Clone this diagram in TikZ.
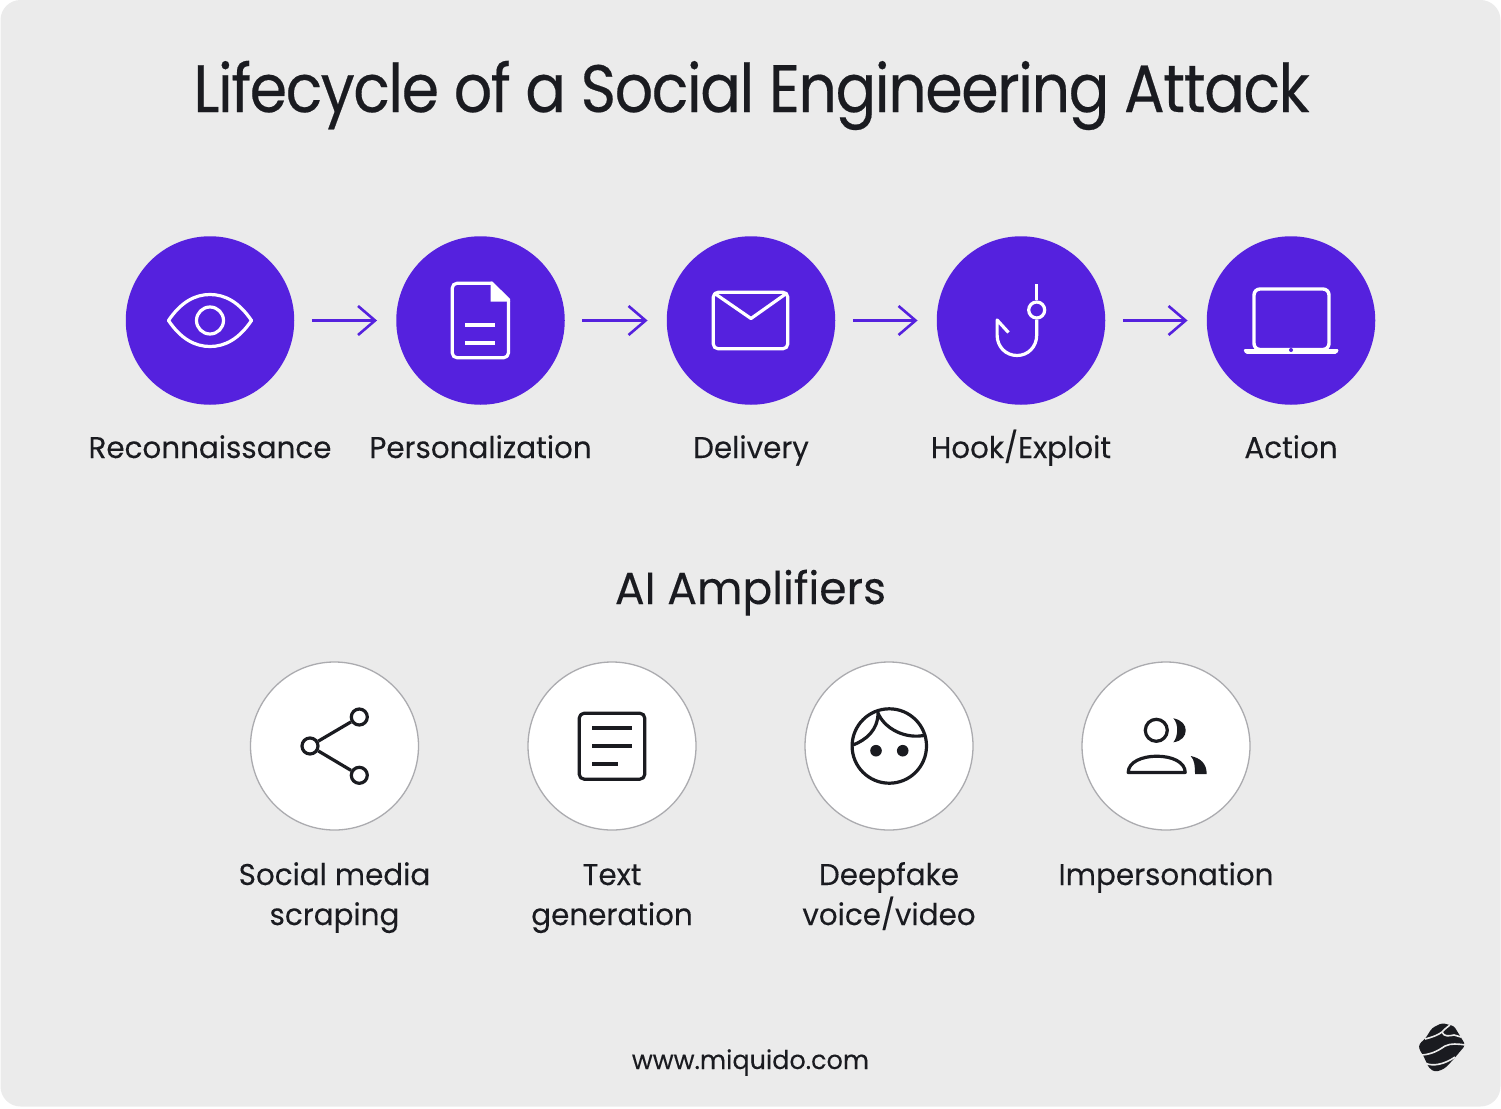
\documentclass[tikz,border=0pt]{standalone}
\usepackage{fontspec}
\usetikzlibrary{arrows.meta}
\setmainfont[FakeStretch=0.98, FakeBold=0.15]{Poppins}
\newfontfamily\titlefont[FakeStretch=0.9, LetterSpace=-2.2, FakeBold=0.3]{Poppins}
\definecolor{panel}{HTML}{EBEBEB}
\definecolor{violet}{HTML}{5521DE}
\definecolor{ink}{HTML}{1A1B20}
\definecolor{ring}{HTML}{ABABAF}
\tikzset{
    stepcircle/.style={circle, fill=violet, minimum size=168.5pt, inner sep=0pt},
    ampcircle/.style={circle, draw=ring, line width=1.3pt, fill=white, minimum size=168pt, inner sep=0pt},
    steplabel/.style={anchor=base, text=ink, align=center, font=\fontsize{30}{40}\selectfont},
    flow/.style={-{Straight Barb[length=17pt, width=29pt]}, draw=violet, line width=2.6pt, shorten <=17.5pt, shorten >=19pt},
    whiteicon/.style={draw=white, line width=3.2pt, line join=round},
    darkicon/.style={draw=ink, line width=3.2pt, line join=round},
    dot/.style={circle, draw=ink, line width=3.2pt, fill=white, minimum size=16pt, inner sep=0pt},
    logocut/.style={draw=panel, line width=1.6pt},
}
\begin{document}
\begin{tikzpicture}[x=1pt, y=-1pt]
    \useasboundingbox (0,0) rectangle (1501,1108);
    \fill[panel, rounded corners=20pt] (0.5,0) rectangle (1500.5,1106.5);

    \node[anchor=base, text=ink, font=\titlefont\fontsize{67}{67}\selectfont] (title) at (751.5,112) {Lifecycle of a Social Engineering Attack};

    % upper row
    \node[stepcircle] (recon) at (210,320.5) {};
    \node[stepcircle] (person) at (480.5,320.5) {};
    \node[stepcircle] (deliv) at (751,320.5) {};
    \node[stepcircle] (hook) at (1021,320.5) {};
    \node[stepcircle] (action) at (1291,320.5) {};

    \draw[flow] (recon) -- (person);
    \draw[flow] (person) -- (deliv);
    \draw[flow] (deliv) -- (hook);
    \draw[flow] (hook) -- (action);

    \node[steplabel] (reconlabel) at (210,458) {Reconnaissance};
    \node[steplabel] (personlabel) at (480.5,458) {Personalization};
    \node[steplabel] (delivlabel) at (751,458) {Delivery};
    \node[steplabel] (hooklabel) at (1021,458) {Hook/Exploit};
    \node[steplabel] (actionlabel) at (1291,458) {Action};

    % eye
    \draw[whiteicon] (168.5,320.5) .. controls (181,302) and (195,294.5) .. (210,294.5) .. controls (225,294.5) and (239,302) .. (251.5,320.5)
        .. controls (239,339) and (225,346.5) .. (210,346.5) .. controls (195,346.5) and (181,339) .. cycle;
    \draw[whiteicon] (210,320.5) circle (13.5);

    % document
    \draw[whiteicon, rounded corners=5pt] (492,283.2) -- (452.2,283.2) -- (452.2,357.8) -- (508.5,357.8) -- (508.5,301);
    \fill[white] (490.5,281.6) -- (492.5,281.6) -- (510.1,299) -- (510.1,301.5) -- (490.5,301.5) -- cycle;
    \draw[whiteicon] (465,325) -- (495,325);
    \draw[whiteicon] (465,343) -- (495,343);

    % envelope
    \draw[whiteicon, rounded corners=5pt] (713.2,292.2) rectangle (787.8,348.8);
    \draw[whiteicon] (714,293) -- (751,318.5) -- (787,293);

    % fish hook
    \node[circle, draw=white, line width=3.2pt, minimum size=16pt, inner sep=0pt] (hookeye) at (1036.7,310) {};
    \draw[whiteicon] (hookeye.north) -- (1036.7,283.5);
    \draw[whiteicon] (hookeye.south) -- (1036.7,335) .. controls (1036.7,347) and (1028,355.5) .. (1017,355.5) .. controls (1006,355.5) and (997.1,347) .. (997.1,335) -- (997.1,320) -- (1008.5,332.5);

    % laptop
    \draw[whiteicon, line width=3.4pt, rounded corners=6pt] (1254,289) rectangle (1329,349.5);
    \fill[white, rounded corners=1.5pt] (1243.3,349) -- (1339,349) -- (1337,353.8) -- (1245.3,353.8) -- cycle;
    \fill[violet] (1291,350) circle (2);

    \node[anchor=base, text=ink, font=\fontsize{45}{45}\selectfont] (amptitle) at (750.5,604) {AI Amplifiers};

    % lower row
    \node[ampcircle] (scrape) at (334.5,746) {};
    \node[ampcircle] (textgen) at (612,746) {};
    \node[ampcircle] (fake) at (889,746) {};
    \node[ampcircle] (imper) at (1166,746) {};

    \node[steplabel] (scrapelabel) at (334.5,925) {Social media\\scraping};
    \node[steplabel] (textlabel) at (612,925) {Text\\generation};
    \node[steplabel] (fakelabel) at (889,925) {Deepfake\\voice/video};
    \node[steplabel] (imperlabel) at (1166,885) {Impersonation};

    % share
    \node[dot] (hub) at (310,746) {};
    \node[dot] (leafa) at (359.3,717) {};
    \node[dot] (leafb) at (359.3,775.3) {};
    \draw[darkicon] (hub) -- (leafa);
    \draw[darkicon] (hub) -- (leafb);

    % text block
    \draw[darkicon, rounded corners=5pt] (579.2,713.2) rectangle (644.8,779.2);
    \draw[darkicon] (592.3,728) -- (631.7,728);
    \draw[darkicon] (592.3,746) -- (631.7,746);
    \draw[darkicon] (592.3,764) -- (618,764);

    % face
    \draw[darkicon] (889.3,746) circle (37.2);
    \draw[darkicon] (853,745) .. controls (866,740) and (878,730) .. (878,713) .. controls (884,728) and (905,740) .. (926,735);
    \fill[ink] (876,750.7) circle (5.8);
    \fill[ink] (902.7,750.7) circle (5.8);

    % people
    \draw[darkicon] (1156.3,730.3) circle (11);
    \fill[ink] (1173.3,718.3) .. controls (1182,720) and (1185.7,725) .. (1185.7,730.3) .. controls (1185.7,736) and (1182,741) .. (1173.3,742.3) .. controls (1178,737) and (1179,724) .. cycle;
    \draw[darkicon] (1128.2,772.5) .. controls (1128.2,762) and (1142,756.2) .. (1156.7,756.2) .. controls (1172,756.2) and (1185.2,762) .. (1185.2,772.5) -- cycle;
    \fill[ink] (1190.7,756) .. controls (1200,758) and (1206.7,763) .. (1206.7,774) -- (1195,774) .. controls (1195,766) and (1194.5,760) .. cycle;

    \node[anchor=base, text=ink, font=\fontsize{26}{26}\selectfont] (url) at (750.5,1069) {www.miquido.com};

    % logo
    \fill[ink, rounded corners=3pt] (1442,1023) -- (1454,1026) -- (1465.5,1045) -- (1452,1061) -- (1444,1069) -- (1435,1072) -- (1429,1068) -- (1423,1055) -- (1419,1049) -- (1419,1044) -- (1425,1039) -- (1432,1028) -- cycle;
    \draw[logocut] (1425,1039) .. controls (1433,1037) and (1438,1035) .. (1442,1032) .. controls (1445,1029) and (1447,1027) .. (1450,1025);
    \draw[logocut] (1442,1032) .. controls (1444,1037) and (1449,1036) .. (1454,1035) -- (1461,1037);
    \draw[logocut] (1422,1055) .. controls (1433,1054) and (1439,1050) .. (1445,1046) .. controls (1451,1043) and (1458,1044) .. (1466,1045);
    \draw[logocut] (1425,1063) .. controls (1433,1067) and (1445,1064) .. (1455,1057);
\end{tikzpicture}
\end{document}
